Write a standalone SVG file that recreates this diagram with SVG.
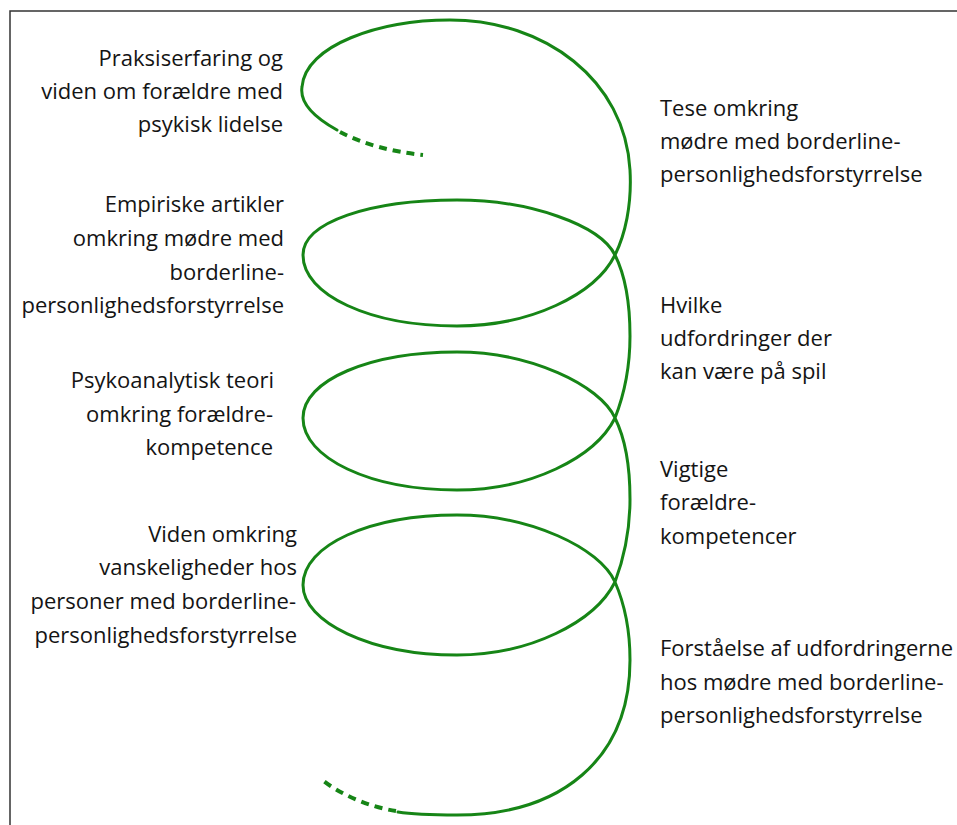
<svg xmlns="http://www.w3.org/2000/svg" width="957" height="825" viewBox="0 0 957 825">
<style>
.t{font-family:"Open Sans","Liberation Sans",sans-serif;font-size:22px;fill:#141414}
.l{text-anchor:end}
.sp{fill:none;stroke:#168516;stroke-width:3;stroke-linecap:round}
.d{fill:none;stroke:#168516;stroke-width:4;stroke-dasharray:8 6}
</style>
<rect width="957" height="825" fill="#fff"/>
<path d="M10,825 V11 H957" fill="none" stroke="#333" stroke-width="1.5"/>
<g id="connectors">
<path class="sp" d="M337,130 C310,115 300,100 302,87 C305,45 380,20 450,20 C545,20 625,80 630,170 C632,205 625,235 615,255 C595,295 530,326 457,326 C370,326 303,295 303,255 C303,222 370,200 457,200 C530,200 600,225 615,255 C625,275 630,305 630,336 C630,370 624,395 615,418 C595,458 530,490 457,490 C370,490 303,458 303,418 C303,380 370,352 457,352 C530,352 600,385 615,418 C625,438 630,468 630,499 C630,533 624,558 615,582 C595,622 530,655 457,655 C370,655 303,622 303,585 C303,545 370,515 457,515 C530,515 600,548 615,582 C625,605 630,630 630,660 C630,760 560,815 457,815 C430,815 410,814 398,812"/>
<path class="d" d="M340,132 Q375,150 423,155"/>
<path class="d" d="M396,811 C370,807 340,795 320,778"/>
</g>
<g id="n1"><text class="t l"><tspan x="283" y="66">Praksiserfaring og</tspan><tspan x="283" y="99">viden om forældre med</tspan><tspan x="283" y="132">psykisk lidelse</tspan></text></g>
<g id="n2"><text class="t l"><tspan x="284" y="212">Empiriske artikler</tspan><tspan x="284" y="246">omkring mødre med</tspan><tspan x="284" y="280">borderline-</tspan><tspan x="284" y="313">personlighedsforstyrrelse</tspan></text></g>
<g id="n3"><text class="t l"><tspan x="274" y="388">Psykoanalytisk teori</tspan><tspan x="273" y="422">omkring forældre-</tspan><tspan x="273" y="455">kompetence</tspan></text></g>
<g id="n4"><text class="t l"><tspan x="297" y="542">Viden omkring</tspan><tspan x="297" y="575">vanskeligheder hos</tspan><tspan x="296" y="609">personer med borderline-</tspan><tspan x="297" y="643">personlighedsforstyrrelse</tspan></text></g>
<g id="n5"><text class="t"><tspan x="660" y="116">Tese omkring</tspan><tspan x="660" y="149">mødre med borderline-</tspan><tspan x="660" y="182">personlighedsforstyrrelse</tspan></text></g>
<g id="n6"><text class="t"><tspan x="660" y="313">Hvilke</tspan><tspan x="660" y="346">udfordringer der</tspan><tspan x="660" y="379">kan være på spil</tspan></text></g>
<g id="n7"><text class="t"><tspan x="660" y="477">Vigtige</tspan><tspan x="660" y="510">forældre-</tspan><tspan x="660" y="544">kompetencer</tspan></text></g>
<g id="n8"><text class="t"><tspan x="660" y="656">Forståelse af udfordringerne</tspan><tspan x="660" y="690">hos mødre med borderline-</tspan><tspan x="660" y="723">personlighedsforstyrrelse</tspan></text></g>
</svg>
